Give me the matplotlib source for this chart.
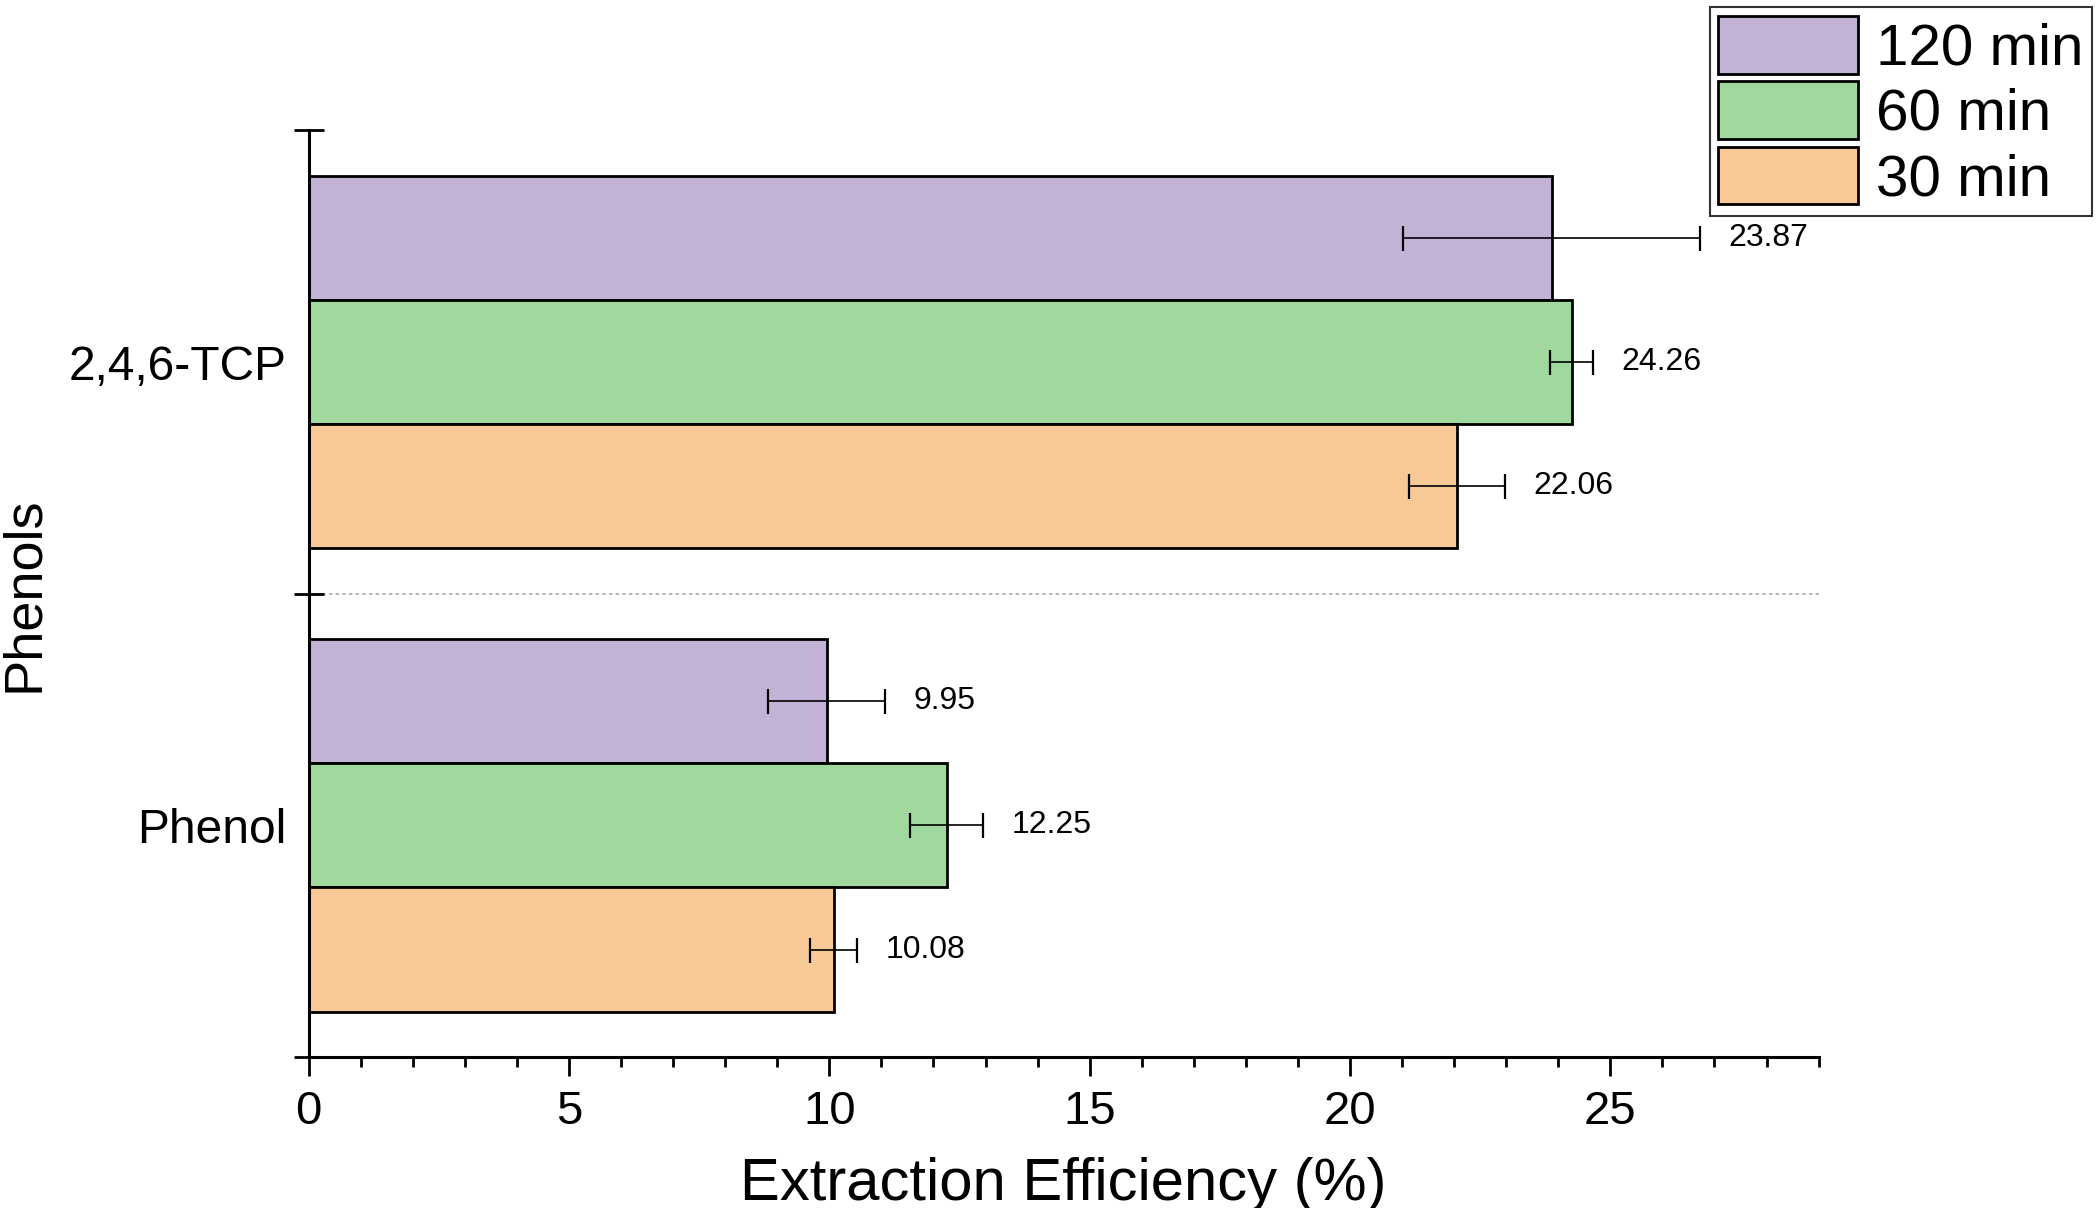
"""
Extraction efficiency of phenols at three extraction times (horizontal bars).
"""

import numpy as np
import matplotlib.pyplot as plt

plt.rcParams['font.family'] = ['Liberation Sans', 'DejaVu Sans']

phenols = ['Phenol', '2,4,6-TCP']
times = ['120 min', '60 min', '30 min']
# values per time, in the order of phenols
eff_120 = [9.95, 23.87]
eff_60 = [12.25, 24.26]
eff_30 = [10.08, 22.06]
err_120 = [1.12, 2.85]
err_60 = [0.70, 0.41]
err_30 = [0.45, 0.92]
colors = ['#C2B2D6', '#A0D89E', '#F9C897']

fig = plt.figure(figsize=(21, 12.08), dpi=100)
ax = fig.add_axes([0.147, 0.125, 0.719, 0.767])

pos = np.arange(len(phenols)) + 0.5
h = 0.268
series = [(eff_120, err_120), (eff_60, err_60), (eff_30, err_30)]
for i, (vals, errs) in enumerate(series):
    y = pos + (1 - i) * h
    ax.barh(y, vals, height=h, color=colors[i], edgecolor='black',
            linewidth=2, label=times[i], zorder=2)
    ax.errorbar(vals, y, xerr=errs, fmt='none', ecolor='black',
                elinewidth=1.2, capsize=9, capthick=1.6, zorder=3)
    for v, e, yy in zip(vals, errs, y):
        ax.text(v + e + 0.55, yy, '%.2f' % v, ha='left', va='center',
                fontsize=23, zorder=4)

ax.axhline(1, color='#AAAAAA', linestyle=(0, (2, 2)), linewidth=1.2, zorder=1)

ax.set_xlim(0, 29)
ax.set_ylim(0, 2)
ax.set_xticks(np.arange(0, 26, 5))
ax.set_xticks(np.arange(0, 30, 1), minor=True)
ax.set_yticks(pos)
ax.set_yticklabels(phenols)
ax.set_yticks([0, 1, 2], minor=True)

ax.tick_params(axis='x', which='major', direction='out', length=14, width=2,
               labelsize=34, pad=10)
ax.tick_params(axis='x', which='minor', direction='out', length=7, width=2)
ax.tick_params(axis='y', which='major', length=0, labelsize=34.5, pad=16)
ax.tick_params(axis='y', which='minor', direction='inout', length=22, width=2)

for s in ['top', 'right']:
    ax.spines[s].set_visible(False)
for s in ['left', 'bottom']:
    ax.spines[s].set_linewidth(2.2)

ax.set_xlabel('Extraction Efficiency (%)', fontsize=43)
ax.xaxis.set_label_coords(0.5, -0.108)
ax.set_ylabel('Phenols', fontsize=39)
ax.yaxis.set_label_coords(-0.172, 0.5)

leg = fig.legend(loc='upper right', bbox_to_anchor=(0.999, 0.999),
                 fontsize=42, fancybox=False, edgecolor='black',
                 handlelength=2.4, handleheight=1.15, handletextpad=0.3,
                 labelspacing=0.08, borderpad=0.15, borderaxespad=0.1)
leg.get_frame().set_linewidth(1.5)

fig.savefig('out.png', dpi=100)
